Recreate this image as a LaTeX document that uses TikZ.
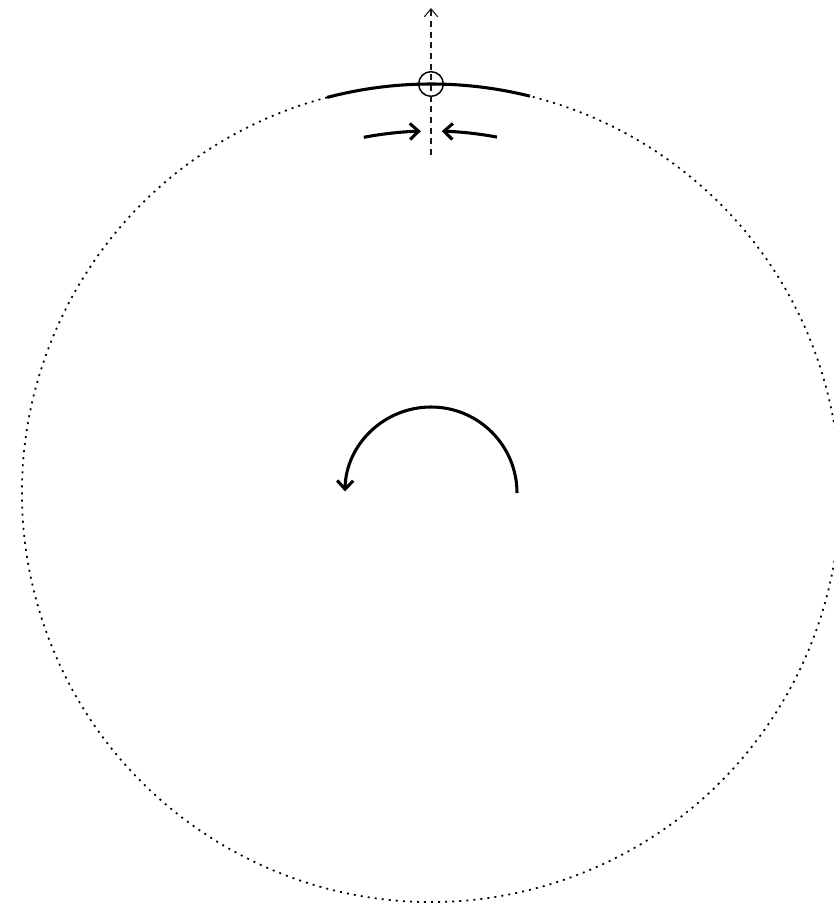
\documentclass[tikz,border=0pt]{standalone}
\usetikzlibrary{arrows.meta}

\begin{document}
\begin{tikzpicture}[
    x=0.75pt, y=0.75pt,
    >=Stealth,
    rim/.style={line width=1.3pt, dash pattern=on 1.5pt off 3.8pt},
    patch/.style={line width=2.3pt},
    push/.style={line width=2.3pt, -{Straight Barb[length=6.5pt, width=12pt]}},
    normal/.style={gray!20!black, line width=1.4pt, dash pattern=on 4.5pt off 3.5pt,
      -{Straight Barb[length=6pt, width=10pt, line width=0.8pt]}}
  ]
  \useasboundingbox (-431,-410) rectangle (403,493);

  % ---- Disc ----
  \coordinate (centre) at (0,0);
  \coordinate (pole) at (90:409);
  \draw[rim] (104.7:409) arc[start angle=104.7, end angle=436, radius=409];
  \draw[patch] (76:409) arc[start angle=76, end angle=104.7, radius=409];

  % Point on the rim
  \node[draw, circle, line width=1.1pt, minimum size=18.5pt, inner sep=0pt] (spot) at (pole) {};
  \coordinate (foot) at (0,338);
  \coordinate (tip) at (0,485);
  \draw[normal] (foot) -- (tip);

  % Squeeze
  \draw[push] (100.7:362) arc[start angle=100.7, end angle=91.6, radius=362];
  \draw[push] (79.5:362) arc[start angle=79.5, end angle=88.3, radius=362];

  % Spin
  \draw[push] (86,0) arc[start angle=0, end angle=179, radius=86];
\end{tikzpicture}
\end{document}
